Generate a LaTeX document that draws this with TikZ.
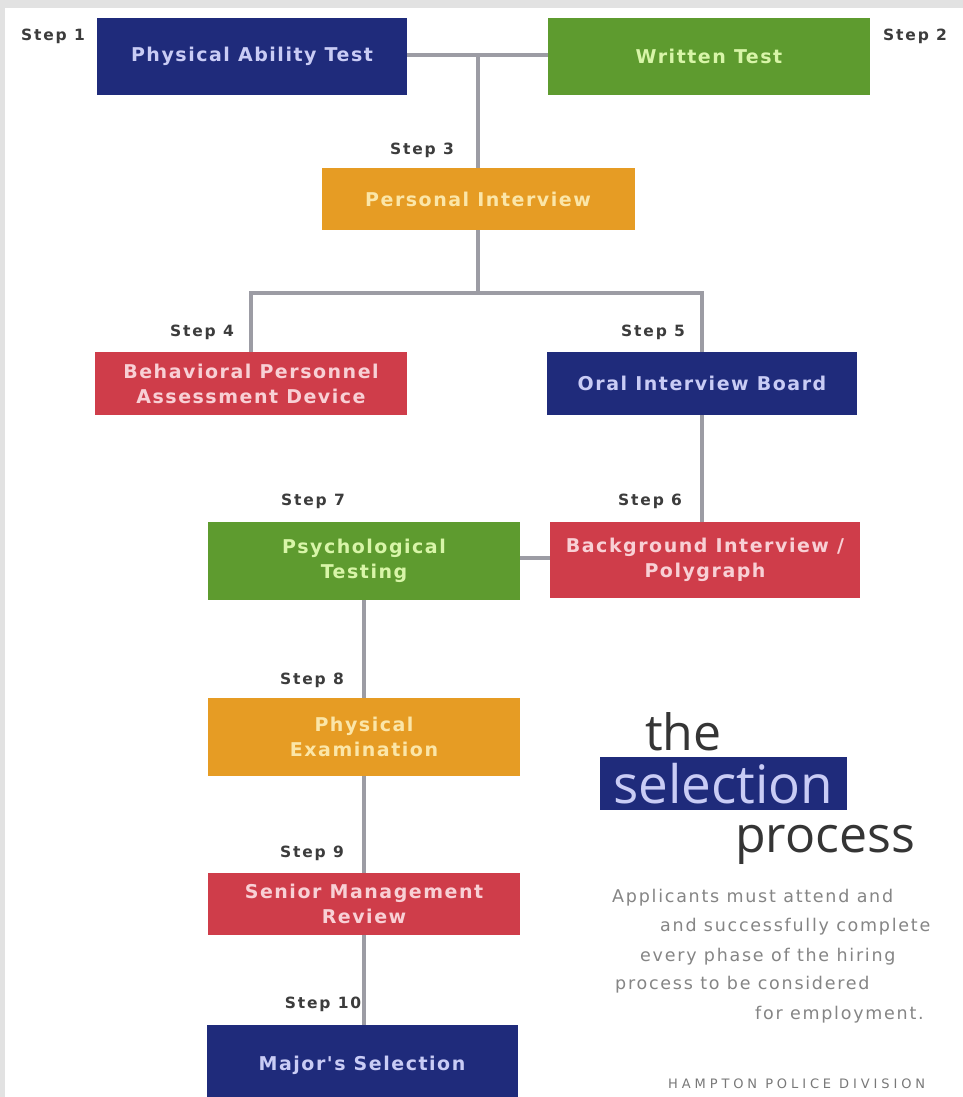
\documentclass[tikz,border=0pt]{standalone}
\usepackage{fontspec}
\newfontfamily\boxfont[LetterSpace=8]{DejaVu Sans}
\newfontfamily\stepfont[LetterSpace=12]{DejaVu Sans}
\newfontfamily\parafont[LetterSpace=10]{DejaVu Sans}
\newfontfamily\tagfont[LetterSpace=30]{DejaVu Sans}
\newfontfamily\titlefont{Open Sans}
\definecolor{navy}{HTML}{1F2B7B}
\definecolor{grn}{HTML}{5E9B2F}
\definecolor{org}{HTML}{E69C24}
\definecolor{rd}{HTML}{CF3D4A}
\definecolor{navytx}{HTML}{C9CCF5}
\definecolor{grntx}{HTML}{D8F5A8}
\definecolor{orgtx}{HTML}{FBE6A8}
\definecolor{rdtx}{HTML}{F8D0D5}
\definecolor{link}{HTML}{9C9CA4}
\definecolor{frame}{HTML}{E2E2E2}
\definecolor{titletx}{HTML}{353535}
\definecolor{paratx}{HTML}{858585}
\definecolor{steptx}{HTML}{3C3C3C}
\tikzset{
  stage/.style={rectangle, inner sep=0pt, align=center,
    font=\boxfont\bfseries\fontsize{19}{25}\selectfont},
  navybox/.style={stage, fill=navy, text=navytx},
  grnbox/.style={stage, fill=grn, text=grntx},
  orgbox/.style={stage, fill=org, text=orgtx},
  rdbox/.style={stage, fill=rd, text=rdtx},
  steplabel/.style={inner sep=0pt, text=steptx,
    font=\stepfont\bfseries\fontsize{15.5}{18}\selectfont},
  conn/.style={draw=link, line width=4pt},
  paraline/.style={inner sep=0pt, anchor=west, text=paratx,
    font=\parafont\fontsize{17.5}{20}\selectfont},
  titleword/.style={inner sep=0pt, anchor=base west, text=titletx,
    font=\titlefont\fontsize{50}{56}\selectfont}
}
\begin{document}
\begin{tikzpicture}[x=1pt,y=-1pt]
\useasboundingbox (0,0) rectangle (963,1097);
\clip (0,0) rectangle (963,1097);
\fill[frame] (0,0) rectangle (963,1097);
\fill[white] (5,8) rectangle (963,1097);

% stage boxes
\node[navybox, minimum width=310pt, minimum height=77pt] (b1) at (252,56.5) {Physical Ability Test};
\node[grnbox, minimum width=322pt, minimum height=77pt] (b2) at (709,56.5) {Written Test};
\node[orgbox, minimum width=313pt, minimum height=62pt] (b3) at (478,199) {Personal Interview};
\node[rdbox, minimum width=312pt, minimum height=63pt] (b4) at (251,383.5) {Behavioral Personnel\\Assessment Device};
\node[navybox, minimum width=310pt, minimum height=63pt] (b5) at (702,383.5) {Oral Interview Board};
\node[rdbox, minimum width=310pt, minimum height=76pt] (b6) at (705,560) {Background Interview /\\Polygraph};
\node[grnbox, minimum width=312pt, minimum height=78pt] (b7) at (364,561) {Psychological\\Testing};
\node[orgbox, minimum width=312pt, minimum height=78pt] (b8) at (364,737) {Physical\\Examination};
\node[rdbox, minimum width=312pt, minimum height=62pt] (b9) at (364,904) {Senior Management\\Review};
\node[navybox, minimum width=311pt, minimum height=80pt] (b10) at (362,1065) {Major's Selection};

% step labels
\node[steplabel] (s1) at (53,36) {Step 1};
\node[steplabel] (s2) at (915,36) {Step 2};
\node[steplabel] (s3) at (422,150) {Step 3};
\node[steplabel] (s4) at (202,332) {Step 4};
\node[steplabel] (s5) at (653,332) {Step 5};
\node[steplabel] (s6) at (650,501) {Step 6};
\node[steplabel] (s7) at (313,501) {Step 7};
\node[steplabel] (s8) at (312,680) {Step 8};
\node[steplabel] (s9) at (312,853) {Step 9};
\node[steplabel] (s10) at (323,1004) {Step 10};

% connectors
\coordinate (j1) at (478,55);
\coordinate (j2) at (478,293);
\draw[conn] (b1.east |- j1) -- (b2.west |- j1);
\draw[conn] (j1) -- (b3.north);
\draw[conn] (b3.south) -- (j2);
\draw[conn] (b4.north) |- (j2);
\draw[conn] (j2) -| (b5.north);
\draw[conn] (b5.south) -- (b5.south |- b6.north);
\draw[conn] (b7.east |- 0,558) -- (b6.west |- 0,558);
\draw[conn] (b7.south) -- (b8.north);
\draw[conn] (b8.south) -- (b9.north);
\draw[conn] (b9.south) -- (b9.south |- b10.north);

% title
\node[titleword] (the) at (645,750) {the};
\node[rectangle, fill=navy, text=navytx, inner sep=0pt, minimum width=247pt, minimum height=53pt,
  font=\titlefont\fontsize{53}{58}\selectfont] (sel) at (723.5,783.5) {selection};
\node[titleword] (proc) at (735,852) {process};

% paragraph
\node[paraline] (p1) at (612,898) {Applicants must attend and};
\node[paraline] (p2) at (660,927) {and successfully complete};
\node[paraline] (p3) at (640,957) {every phase of the hiring};
\node[paraline] (p4) at (615,985) {process to be considered};
\node[paraline] (p5) at (755,1015) {for employment.};
\node[inner sep=0pt, anchor=west, text=paratx!90!black,
  font=\tagfont\fontsize{13}{15}\selectfont] (tag) at (668,1084) {HAMPTON POLICE DIVISION};
\end{tikzpicture}
\end{document}
